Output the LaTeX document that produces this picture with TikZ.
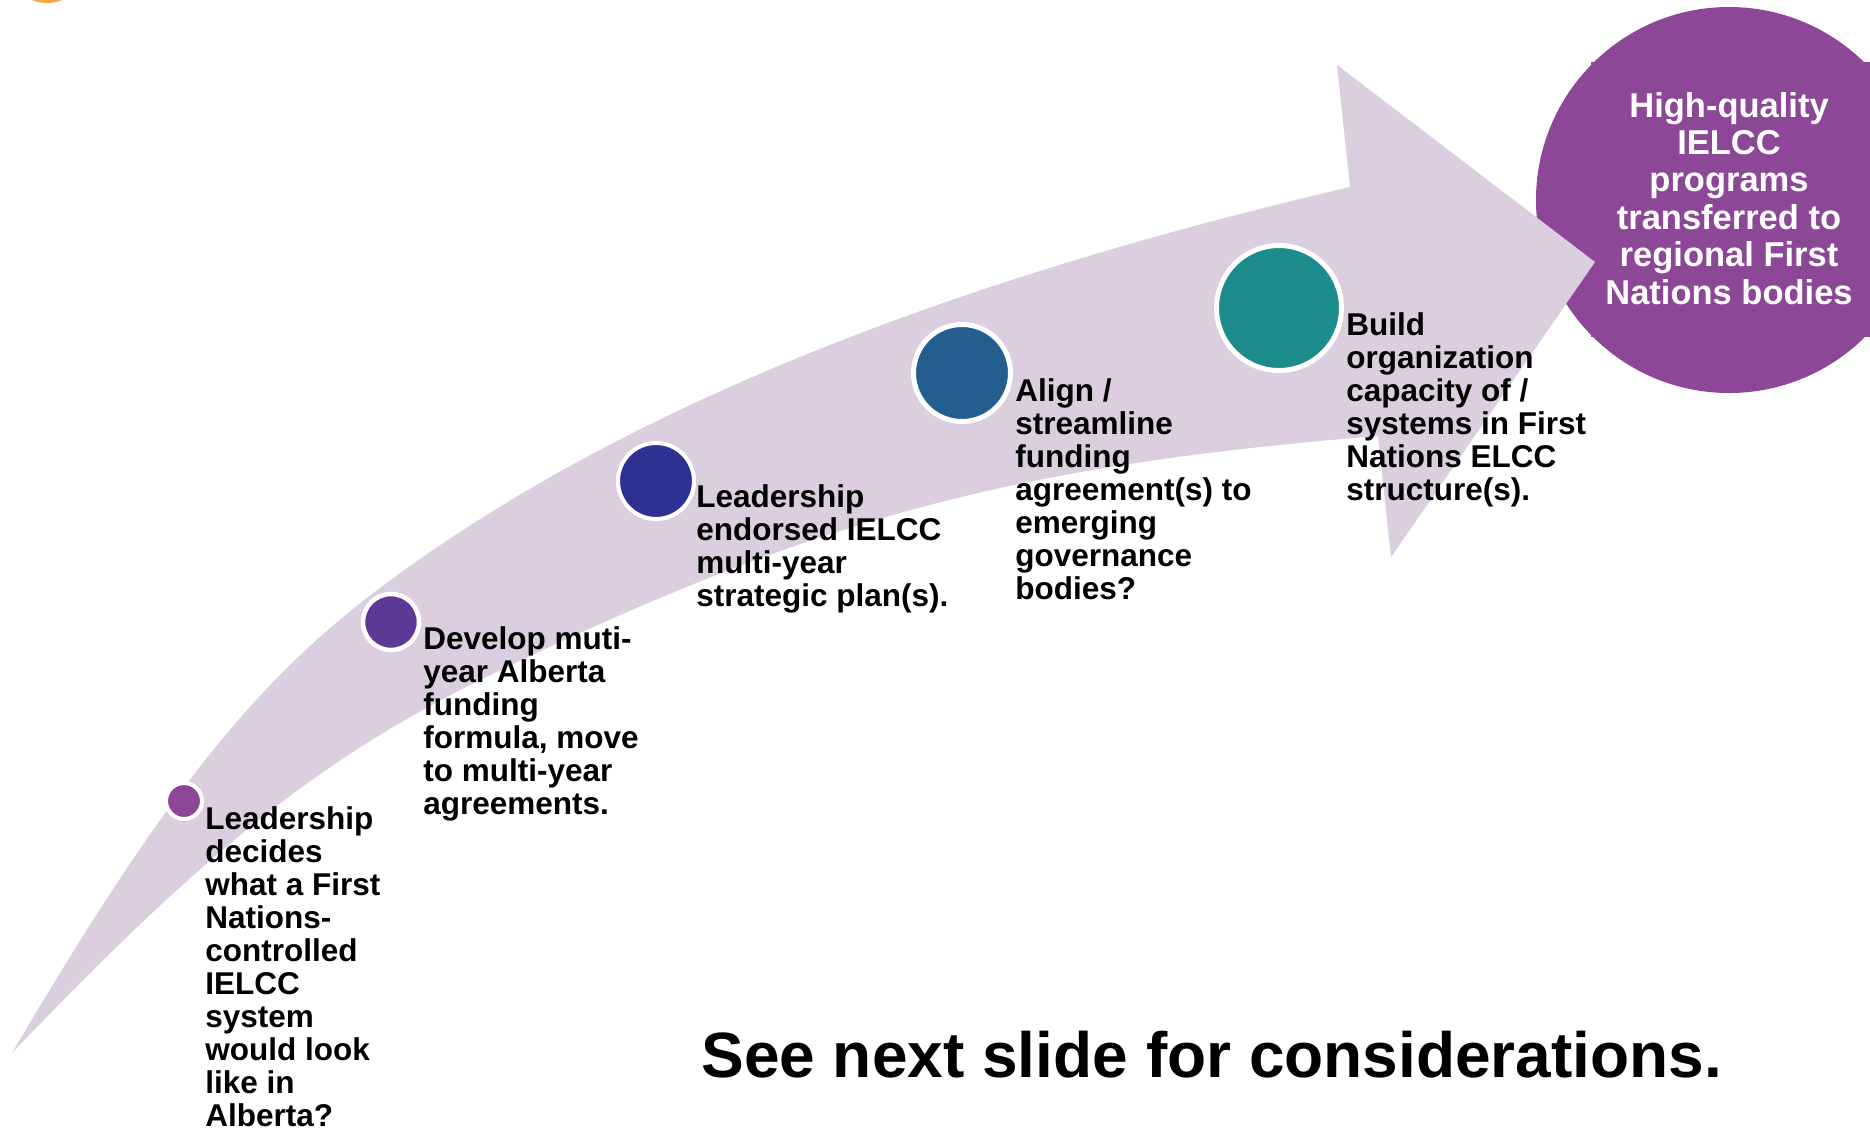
\documentclass[tikz,border=0pt]{standalone}
\usepackage{fontspec}
\setmainfont{Liberation Sans}
\definecolor{bandc}{RGB}{218,206,223}
\definecolor{purpA}{RGB}{141,71,151}
\definecolor{purpB}{RGB}{93,57,150}
\definecolor{navyC}{RGB}{46,49,146}
\definecolor{blueD}{RGB}{36,94,143}
\definecolor{tealE}{RGB}{28,139,139}
\definecolor{orangeF}{RGB}{247,166,77}
\newcommand\mylinesL[1]{\begin{tabular}[t]{@{}l@{}}#1\end{tabular}}
\newcommand\mylinesC[1]{\begin{tabular}[t]{@{}c@{}}#1\end{tabular}}
\tikzset{
  bandfill/.style={fill=bandc},
  dot/.style={circle, draw=white, inner sep=0pt, outer sep=0pt},
  steptext/.style={anchor=base west, inner sep=0pt, text=black,
    font=\fontsize{15.75}{16.5}\selectfont\bfseries},
  goaltext/.style={anchor=base, inner sep=0pt, text=white,
    font=\fontsize{17.25}{18.7}\selectfont\bfseries},
  notetext/.style={anchor=base west, inner sep=0pt, text=black,
    font=\fontsize{32}{38}\selectfont\bfseries},
}
\begin{document}
\begin{tikzpicture}[x=0.5pt, y=-0.5pt]
\clip (0,0) rectangle (1870,1132);
\fill[white] (0,0) rectangle (1870,1132);
% orange sliver at top left
\fill[orangeF] (47,-25) ellipse [x radius=33, y radius=28];
% goal circle
\fill[purpA] (1729,200) circle [radius=193];
\fill[purpA] (1591,62) rectangle (1900,337);
% band arrow
\coordinate (tail) at (12,1053);
\coordinate (um) at (380,588);
\coordinate (uc) at (1350,187);
\coordinate (ht) at (1337,65);
\coordinate (hp) at (1595,262);
\coordinate (hb) at (1391,557);
\coordinate (lc) at (1378,436);
\coordinate (lm) at (480,680);
\fill[bandfill] (tail) .. controls (161,800) and (253,683) .. (um)
  .. controls (609,416) and (930,285) .. (uc)
  -- (ht) -- (hp) -- (hb) -- (lc)
  .. controls (1005,466) and (808,521) .. (lm)
  .. controls (322,758) and (204.5,851) .. (tail) -- cycle;
% milestone dots
\node[dot, fill=purpA, line width=2pt, minimum size=18pt] (c1) at (184,801) {};
\node[dot, fill=purpB, line width=2.25pt, minimum size=28pt] (c2) at (391,622) {};
\node[dot, fill=navyC, line width=2pt, minimum size=38pt] (c3) at (656,481) {};
\node[dot, fill=blueD, line width=2.5pt, minimum size=48.5pt] (c4) at (962,373) {};
\node[dot, fill=tealE, line width=2.5pt, minimum size=62.5pt] (c5) at (1279,308) {};
% texts
\node[steptext] (t1) at (205,829) {\mylinesL{Leadership\\decides\\what a First\\Nations-\\controlled\\IELCC\\system\\would look\\like in\\Alberta?}};
\node[steptext] (t2) at (423,649) {\mylinesL{Develop muti-\\year Alberta\\funding\\formula, move\\to multi-year\\agreements.}};
\node[steptext] (t3) at (696,507) {\mylinesL{Leadership\\endorsed IELCC\\multi-year\\strategic plan(s).}};
\node[steptext] (t4) at (1015,401) {\mylinesL{Align /\\streamline\\funding\\agreement(s) to\\emerging\\governance\\bodies?}};
\node[steptext] (t5) at (1346,335) {\mylinesL{Build\\organization\\capacity of /\\systems in First\\Nations ELCC\\structure(s).}};
\node[goaltext] (goal) at (1729,117) {\mylinesC{High-quality\\IELCC\\programs\\transferred to\\regional First\\Nations bodies}};
\node[notetext] (note) at (701,1077) {See next slide for considerations.};
\end{tikzpicture}
\end{document}
